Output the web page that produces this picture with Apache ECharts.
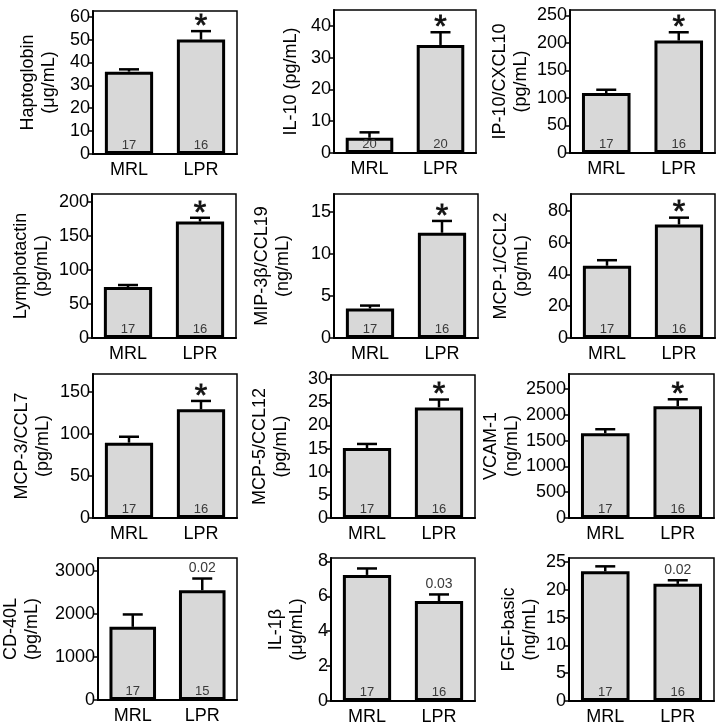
<!DOCTYPE html>
<html>
<head>
<meta charset="utf-8">
<script src="https://cdn.jsdelivr.net/npm/echarts@6/dist/echarts.min.js"></script>
<style>
html,body{margin:0;padding:0;background:#fff;}
#chart{width:720px;height:727px;}
</style>
</head>
<body>
<div id="chart"></div>
<script>
// ---- data ----
const categories = ['MRL', 'LPR'];
const axisNames = [
  'Haptoglobin\n(μg/mL)', 'IL-10 (pg/mL)', 'IP-10/CXCL10\n(pg/mL)',
  'Lymphotactin\n(pg/mL)', 'MIP-3β/CCL19\n(ng/mL)', 'MCP-1/CCL2\n(pg/mL)',
  'MCP-3/CCL7\n(pg/mL)', 'MCP-5/CCL12\n(pg/mL)', 'VCAM-1\n(ng/mL)',
  'CD-40L\n(pg/mL)', 'IL-1β\n(μg/mL)', 'FGF-basic\n(ng/mL)'
];
const mrlValues = [36, 4.8, 109, 75, 3.5, 45.5, 89.5, 15.1, 1643, 1700, 7.23, 23.3];
const mrlErrors = [1, 1.7, 6, 3, 0.35, 3.5, 7, 0.9, 77, 288, 0.37, 0.9];
const lprValues = [50, 34, 204.5, 171.5, 12.5, 71.5, 129, 23.9, 2165, 2552, 5.73, 21.05];
const lprErrors = [3.7, 4, 15, 5.5, 1.4, 4.3, 10, 1.7, 135, 271, 0.38, 0.65];
const mrlN = [17, 20, 17, 17, 17, 17, 17, 17, 17, 17, 17, 17];
const lprN = [16, 20, 16, 16, 16, 16, 16, 16, 16, 15, 16, 16];
const lprAnnotations = ['*', '*', '*', '*', '*', '*', '*', '*', '*', '0.02', '0.03', '0.02'];
const axisMax = [62.5, 45, 260, 212, 17.1, 90.7, 171, 30.9, 2790, 3300, 8.2, 25.7];
const tickValues = [
  [0, 10, 20, 30, 40, 50, 60],
  [0, 10, 20, 30, 40],
  [0, 50, 100, 150, 200, 250],
  [0, 50, 100, 150, 200],
  [0, 5, 10, 15],
  [0, 20, 40, 60, 80],
  [0, 50, 100, 150],
  [0, 5, 10, 15, 20, 25, 30],
  [0, 500, 1000, 1500, 2000, 2500],
  [0, 1000, 2000, 3000],
  [0, 2, 4, 6, 8],
  [0, 5, 10, 15, 20, 25]
];

// ---- layout (px) ----
const gridRects = [
  [93, 11, 144, 143], [334, 10, 142, 143], [570, 10, 145, 143],
  [92, 194, 144, 144], [334, 194, 144, 144], [571, 194, 144, 144],
  [93, 374, 144, 144], [331, 375, 144, 143], [569, 374, 145, 144],
  [93, 558, 144, 142], [331, 558, 144, 143], [569, 558, 145, 143]
];
const nameGaps = [33, 32, 38, 39, 40, 38, 39, 39, 46, 55, 23, 28];

const FONT = '"Liberation Sans", Arial, sans-serif';
const grids = [], xAxes = [], yAxes = [], series = [];

for (let i = 0; i < 12; i++) {
  const r = gridRects[i];
  grids.push({
    left: r[0], top: r[1], width: r[2], height: r[3],
    show: true, borderColor: '#000', borderWidth: 1.5, backgroundColor: 'transparent',
    containLabel: false
  });
  xAxes.push({
    type: 'category', gridIndex: i, data: categories,
    axisLine: { show: true, lineStyle: { color: '#000', width: 2 } },
    axisTick: { show: false },
    axisLabel: { color: '#000', fontSize: 18, fontFamily: FONT, margin: 7 },
    splitLine: { show: false }
  });
  yAxes.push({
    type: 'value', gridIndex: i, min: 0, max: axisMax[i],
    name: axisNames[i], nameLocation: 'middle', nameRotate: 90, nameGap: nameGaps[i],
    nameTextStyle: { color: '#000', fontSize: 18, fontFamily: FONT, lineHeight: 21 },
    axisLine: { show: true, lineStyle: { color: '#000', width: 2 } },
    axisTick: { show: true, inside: false, length: 5, lineStyle: { color: '#000', width: 1.5 }, customValues: tickValues[i] },
    axisLabel: { color: '#000', fontSize: 18, fontFamily: FONT, margin: 3, customValues: tickValues[i],
                 formatter: (v) => String(v) },
    splitLine: { show: false }
  });
  const ns = [mrlN[i], lprN[i]];
  series.push({
    type: 'bar', xAxisIndex: i, yAxisIndex: i,
    data: [mrlValues[i], lprValues[i]],
    barWidth: '67%',
    itemStyle: { color: '#d8d8d8', borderColor: '#000', borderWidth: 3 },
    label: {
      show: true, position: 'insideBottom', distance: 2,
      color: '#3a3a3a', fontSize: 13, fontFamily: FONT,
      formatter: (p) => String(ns[p.dataIndex])
    },
    silent: true, animation: false
  });
  const errData = [
    [0, mrlValues[i], mrlValues[i] + mrlErrors[i]],
    [1, lprValues[i], lprValues[i] + lprErrors[i]]
  ];
  const ann = ['', lprAnnotations[i]];
  series.push({
    type: 'custom', xAxisIndex: i, yAxisIndex: i,
    data: errData,
    renderItem: function (params, api) {
      const x = api.value(0);
      const base = api.coord([x, api.value(1)]);
      const top = api.coord([x, api.value(2)]);
      const half = 10;
      const children = [
        { type: 'line', shape: { x1: base[0], y1: base[1], x2: top[0], y2: top[1] }, style: { stroke: '#000', lineWidth: 2.5 } },
        { type: 'line', shape: { x1: top[0] - half, y1: top[1], x2: top[0] + half, y2: top[1] }, style: { stroke: '#000', lineWidth: 2.5 } }
      ];
      const t = ann[params.dataIndex];
      if (t) {
        const star = t === '*';
        children.push({
          type: 'text',
          style: {
            text: t, x: top[0], y: star ? top[1] + 12 : top[1] - 3,
            align: 'center', verticalAlign: 'bottom',
            fill: star ? '#111' : '#3a3a3a',
            font: star ? ('32px ' + FONT) : ('14px ' + FONT),
            stroke: star ? '#111' : null, lineWidth: star ? 0.8 : 0
          }
        });
      }
      return { type: 'group', children: children };
    },
    silent: true, animation: false, z: 5
  });
}

const chart = echarts.init(document.getElementById('chart'), null, { renderer: 'canvas' });
chart.setOption({
  animation: false,
  backgroundColor: '#fff',
  grid: grids, xAxis: xAxes, yAxis: yAxes, series: series
});
</script>
</body>
</html>
